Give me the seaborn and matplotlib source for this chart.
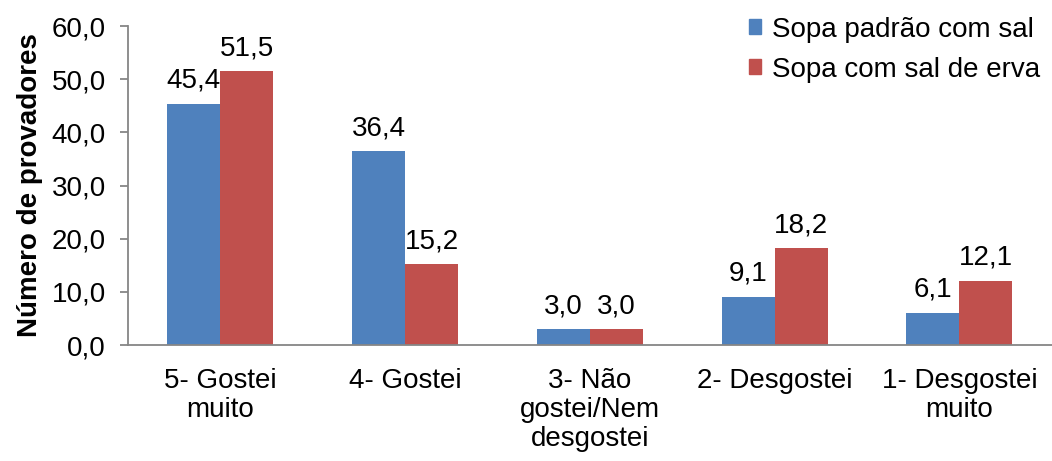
import matplotlib
matplotlib.use("Agg")
import matplotlib.pyplot as plt
import seaborn as sns
import pandas as pd
from matplotlib.patches import Patch

categories = ["5- Gostei\nmuito", "4- Gostei", "3- Não\ngostei/Nem\ndesgostei", "2- Desgostei", "1- Desgostei\nmuito"]
series_names = ["Sopa padrão com sal", "Sopa com sal de erva"]
padrao = [45.4, 36.4, 3.0, 9.1, 6.1]
erva = [51.5, 15.2, 3.0, 18.2, 12.1]
yticks = [0, 10, 20, 30, 40, 50, 60]
colors = ["#4F81BD", "#C0504D"]

rows = []
for c, v in zip(categories, padrao):
    rows.append({"cat": c, "serie": series_names[0], "val": v})
for c, v in zip(categories, erva):
    rows.append({"cat": c, "serie": series_names[1], "val": v})
df = pd.DataFrame(rows)

sns.set_style("white")
plt.rcParams['font.family'] = ['Liberation Sans', 'DejaVu Sans']
plt.rcParams['text.color'] = 'black'
FS = 20

fig = plt.figure(figsize=(10.52, 4.61), dpi=100)
ax = fig.add_axes([0.1217, 0.2516, 0.878, 0.692])
sns.barplot(data=df, x="cat", y="val", hue="serie", palette=colors,
            width=0.574, saturation=1, ax=ax, legend=False, edgecolor="none")

for cont in ax.containers:
    ax.bar_label(cont, labels=[f"{b.get_height():.1f}".replace(".", ",") for b in cont],
                 padding=7, fontsize=FS, color="black")

ax.set_ylim(0, 60)
ax.set_xlim(-0.5, 4.5)
ax.set_yticks(yticks)
ax.set_yticklabels([f"{t:.1f}".replace(".", ",") for t in yticks], fontsize=FS, color="black")
ax.set_xticklabels(categories, fontsize=FS, linespacing=1.15, color="black")
ax.set_xlabel("")
ax.set_ylabel("Número de provadores", fontsize=FS, fontweight="bold", labelpad=6, color="black")
for s in ["top", "right"]:
    ax.spines[s].set_visible(False)
for s in ["left", "bottom"]:
    ax.spines[s].set_color("#868686")
    ax.spines[s].set_linewidth(1.3)
ax.tick_params(axis="y", which="both", left=True, length=6, width=1.3, color="#868686", pad=10)
ax.tick_params(axis="x", bottom=False, pad=13)

handles = [Patch(color=colors[0], label=series_names[0]), Patch(color=colors[1], label=series_names[1])]
fig.legend(handles=handles, loc="upper right", bbox_to_anchor=(1.005, 1.0), frameon=False,
           fontsize=FS, handlelength=0.45, handleheight=0.45, handletextpad=0.4, labelspacing=0.5,
           borderaxespad=0.2)

fig.savefig("out.png", dpi=100)
